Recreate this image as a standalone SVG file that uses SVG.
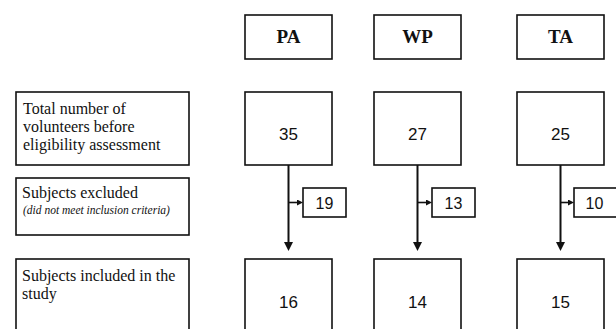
<svg xmlns="http://www.w3.org/2000/svg" width="616" height="329" viewBox="0 0 616 329">
<style>
.box{fill:#fff;stroke:#111;stroke-width:1.6}
.hdr{font-family:"Liberation Serif","Times New Roman",serif;font-weight:bold;font-size:19px;fill:#111;text-anchor:middle}
.lbl{font-family:"Liberation Serif","Times New Roman",serif;font-size:16px;fill:#111}
.note{font-family:"Liberation Serif","Times New Roman",serif;font-style:italic;font-size:11.5px;fill:#111}
.num{font-family:"Liberation Sans",Arial,sans-serif;font-size:17px;fill:#111;text-anchor:middle}
.snum{font-family:"Liberation Sans",Arial,sans-serif;font-size:16px;fill:#111;text-anchor:middle}
.conn{stroke:#111;stroke-width:2;fill:none}
.br{stroke:#111;stroke-width:1.6;fill:none}
</style>
<defs>
<marker id="big" markerUnits="userSpaceOnUse" markerWidth="9" markerHeight="9" refX="2" refY="4.5" orient="auto">
<path d="M0,0 L9,4.5 L0,9 z" fill="#111"/>
</marker>
<marker id="small" markerUnits="userSpaceOnUse" markerWidth="6" markerHeight="6" refX="0" refY="3" orient="auto">
<path d="M0,0 L6,3 L0,6 z" fill="#111"/>
</marker>
</defs>
<rect width="616" height="329" fill="#fff"/>

<g id="hdr-pa"><rect class="box" x="245" y="15" width="87" height="44"/><text class="hdr" x="288.5" y="43">PA</text></g>
<g id="hdr-wp"><rect class="box" x="374" y="15" width="87" height="44"/><text class="hdr" x="417.5" y="43">WP</text></g>
<g id="hdr-ta"><rect class="box" x="517" y="15" width="87" height="44"/><text class="hdr" x="560.5" y="43">TA</text></g>

<g id="lbl-total"><rect class="box" x="16" y="92" width="173" height="73"/>
<text class="lbl" x="23" y="114">Total number of</text>
<text class="lbl" x="23" y="132">volunteers before</text>
<text class="lbl" x="23" y="150">eligibility assessment</text></g>
<g id="lbl-excluded"><rect class="box" x="16" y="178" width="173" height="57"/>
<text class="lbl" x="22" y="198">Subjects excluded</text>
<text class="note" x="23" y="214">(did not meet inclusion criteria)</text></g>
<g id="lbl-included"><rect class="box" x="16" y="259" width="173" height="80"/>
<text class="lbl" x="22" y="281">Subjects included in the</text>
<text class="lbl" x="22" y="299">study</text></g>

<g id="pa-total"><rect class="box" x="245" y="92" width="87" height="73"/><text class="num" x="288.5" y="140">35</text></g>
<g id="wp-total"><rect class="box" x="374" y="92" width="87" height="73"/><text class="num" x="417.5" y="140">27</text></g>
<g id="ta-total"><rect class="box" x="517" y="92" width="87" height="73"/><text class="num" x="560.5" y="140">25</text></g>

<g id="pa-excl"><rect class="box" x="303" y="188" width="43" height="29"/><text class="snum" x="324.5" y="209">19</text></g>
<g id="wp-excl"><rect class="box" x="432" y="188" width="43" height="29"/><text class="snum" x="453.5" y="209">13</text></g>
<g id="ta-excl"><rect class="box" x="574" y="188" width="44" height="29"/><text class="snum" x="594.5" y="209">10</text></g>

<g id="pa-incl"><rect class="box" x="245" y="259" width="87" height="80"/><text class="num" x="288.5" y="308">16</text></g>
<g id="wp-incl"><rect class="box" x="374" y="259" width="87" height="80"/><text class="num" x="417.5" y="308">14</text></g>
<g id="ta-incl"><rect class="box" x="517" y="259" width="87" height="80"/><text class="num" x="560.5" y="308">15</text></g>

<g id="connectors">
<line class="conn" x1="288.5" y1="165" x2="288.5" y2="244" marker-end="url(#big)"/>
<line class="conn" x1="417.5" y1="165" x2="417.5" y2="244" marker-end="url(#big)"/>
<line class="conn" x1="560.5" y1="165" x2="560.5" y2="244" marker-end="url(#big)"/>
<line class="br" x1="288.5" y1="202.5" x2="297" y2="202.5" marker-end="url(#small)"/>
<line class="br" x1="417.5" y1="202.5" x2="426" y2="202.5" marker-end="url(#small)"/>
<line class="br" x1="560.5" y1="202.5" x2="568" y2="202.5" marker-end="url(#small)"/>
</g>
</svg>
